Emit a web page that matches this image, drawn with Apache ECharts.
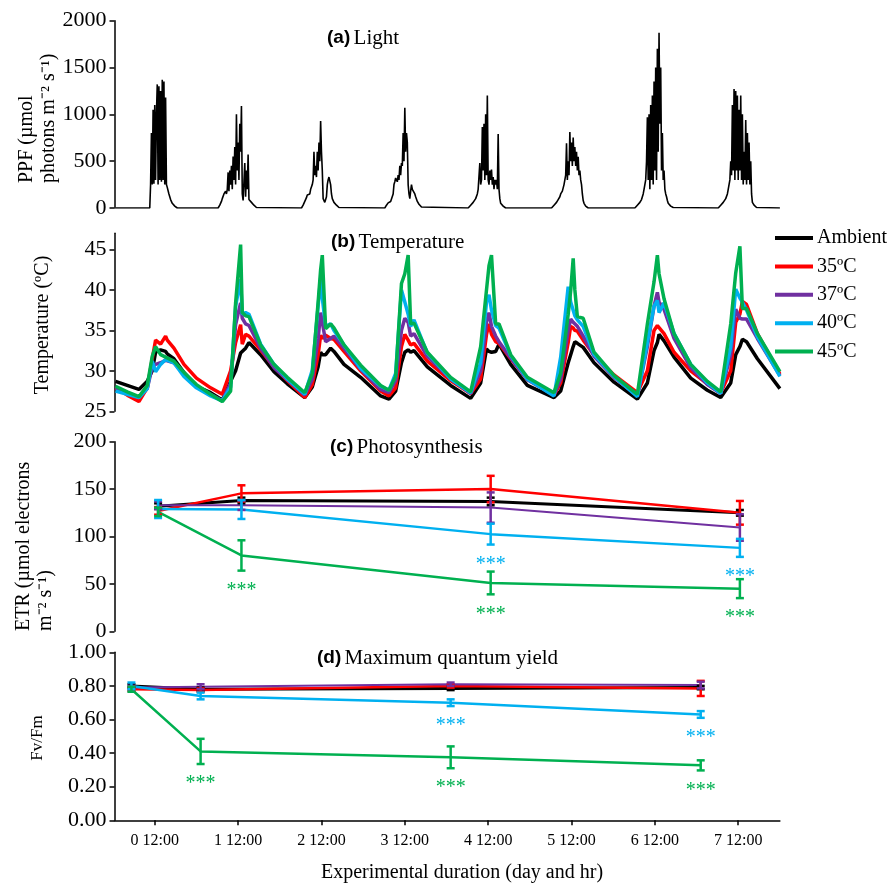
<!DOCTYPE html>
<html>
<head>
<meta charset="utf-8">
<script src="https://cdn.jsdelivr.net/npm/echarts@6/dist/echarts.min.js"></script>
<style>
html,body{margin:0;padding:0;background:#fff}
#chart{width:894px;height:886px}
</style>
</head>
<body>
<div id="chart"></div>
<script>
// ---- Shared x axis (days since start) ----
const dayMin = 0.017;
const dayMax = 8.0;
const dayTicks = [0.5, 1.5, 2.5, 3.5, 4.5, 5.5, 6.5, 7.5];
const dayTickLabels = ['0 12:00', '1 12:00', '2 12:00', '3 12:00', '4 12:00', '5 12:00', '6 12:00', '7 12:00'];

const treatNames = ['Ambient', '35ºC', '37ºC', '40ºC', '45ºC'];
const treatColors = ['#000000', '#FF0000', '#7030A0', '#00B0F0', '#00B050'];

// ---- (a) Light: PPF, sampled every 0.01 day through each daylight period ----
const ppfStep = 0.01;
const ppfDayStart = [0.44, 1.26, 2.26, 3.26, 4.26, 5.26, 6.26, 7.26];
const ppfDay0 = [0, 250, 800, 250, 1050, 260, 1100, 300, 1000, 1320, 250, 1300, 300, 1250, 280, 1370, 300, 1350, 250, 1180, 250, 220, 200, 150, 120, 90, 70, 50, 40, 30, 20, 12, 6, 0];
const ppfDay1 = [0, 10, 30, 50, 70, 100, 120, 150, 130, 180, 150, 200, 380, 180, 400, 250, 450, 200, 550, 300, 650, 250, 1000, 400, 700, 300, 900, 600, 1090, 150, 80, 100, 480, 120, 400, 200, 570, 90, 80, 70, 60, 50, 40, 30, 20, 10, 5, 0];
const ppfDay2 = [0, 10, 30, 50, 70, 90, 110, 140, 130, 160, 150, 200, 180, 250, 300, 600, 350, 450, 330, 600, 400, 700, 500, 930, 600, 400, 100, 80, 60, 80, 120, 250, 300, 330, 320, 250, 150, 100, 80, 60, 50, 40, 30, 20, 10, 5, 0];
const ppfDay3 = [0, 10, 30, 50, 55, 60, 60, 70, 80, 90, 150, 250, 280, 320, 300, 280, 350, 300, 450, 350, 480, 450, 800, 500, 1070, 600, 800, 700, 250, 150, 100, 180, 250, 200, 220, 180, 150, 120, 100, 70, 50, 40, 30, 20, 10, 5, 0];
const ppfDay4 = [0, 10, 20, 30, 40, 50, 60, 70, 80, 100, 120, 150, 200, 180, 480, 250, 300, 865, 400, 900, 300, 1000, 350, 1200, 300, 250, 400, 300, 410, 250, 330, 200, 300, 250, 300, 200, 790, 200, 100, 50, 40, 30, 20, 10, 5, 0];
const ppfDay5 = [0, 10, 20, 30, 40, 50, 60, 70, 90, 100, 120, 150, 150, 180, 200, 250, 300, 350, 690, 300, 500, 350, 812, 500, 700, 450, 752, 500, 650, 450, 600, 400, 546, 350, 400, 300, 250, 150, 80, 50, 30, 20, 10, 5, 0];
const ppfDay6 = [0, 10, 20, 30, 40, 50, 60, 70, 90, 120, 150, 200, 250, 300, 500, 970, 300, 1000, 200, 1100, 300, 1200, 250, 1350, 400, 1500, 300, 1700, 600, 1870, 900, 1500, 400, 800, 300, 400, 200, 150, 120, 80, 50, 40, 30, 20, 15, 10, 5, 0];
const ppfDay7 = [0, 10, 20, 30, 40, 50, 60, 70, 80, 100, 120, 150, 200, 250, 300, 500, 350, 1100, 400, 1270, 300, 1250, 400, 1200, 300, 1050, 400, 1200, 300, 1000, 250, 600, 300, 940, 250, 800, 300, 700, 250, 500, 150, 60, 40, 30, 20, 10, 5, 0];
const ppfDays = [ppfDay0, ppfDay1, ppfDay2, ppfDay3, ppfDay4, ppfDay5, ppfDay6, ppfDay7];

// ---- (b) Temperature ----
const tempTime = [0.03, 0.17, 0.31, 0.41, 0.47, 0.51, 0.57, 0.63, 0.65, 0.73, 0.85, 1.0, 1.17, 1.31,
  1.41, 1.47, 1.53, 1.55, 1.59, 1.63, 1.77, 1.93, 2.09, 2.30,
  2.39, 2.46, 2.49, 2.51, 2.55, 2.61, 2.65, 2.77, 2.97, 3.21, 3.31,
  3.39, 3.46, 3.50, 3.54, 3.57, 3.61, 3.77, 4.05, 4.29,
  4.41, 4.48, 4.51, 4.54, 4.59, 4.63, 4.77, 4.97, 5.29,
  5.37, 5.46, 5.49, 5.52, 5.54, 5.57, 5.64, 5.77, 6.01, 6.29,
  6.41, 6.49, 6.53, 6.55, 6.61, 6.73, 6.93, 7.13, 7.29,
  7.41, 7.47, 7.52, 7.55, 7.60, 7.73, 8.0];
const tempAmbient = [28.7, 28.2, 27.7, 28.7, 30.0, 32.3, 32.6, 32.4, 32.1, 31.5, 29.8, 28.1, 27.3, 26.4,
  28.7, 30.0, 32.2, 32.4, 32.8, 33.5, 32.0, 29.9, 28.4, 26.7,
  28.0, 30.5, 32.3, 32.0, 32.0, 32.8, 32.4, 30.8, 29.2, 26.9, 26.5,
  27.5, 31.0, 32.3, 32.6, 32.3, 32.5, 30.5, 28.2, 26.6,
  28.5, 32.7, 32.4, 32.3, 32.4, 33.3, 30.8, 28.2, 26.7,
  27.5, 31.0, 32.0, 33.0, 33.6, 33.4, 32.9, 31.0, 28.6, 26.5,
  28.5, 32.5, 33.5, 34.5, 33.7, 31.7, 29.1, 27.6, 26.7,
  28.5, 32.0, 33.0, 33.9, 33.6, 31.5, 27.8];
const temp35 = [27.9, 27.0, 26.2, 27.9, 31.5, 33.8, 33.3, 34.3, 33.8, 32.8, 30.8, 29.1, 27.9, 27.1,
  30.0, 33.5, 35.7, 33.3, 34.5, 34.3, 32.6, 30.5, 28.8, 26.7,
  28.3, 32.0, 34.4, 34.0, 34.4, 34.0, 33.9, 32.4, 30.0, 27.5, 26.9,
  27.9, 33.0, 34.5, 33.8, 33.2, 33.4, 31.2, 28.8, 27.2,
  29.0, 34.5, 35.8, 34.5, 33.6, 33.4, 31.5, 29.0, 27.0,
  28.5, 33.5, 35.5, 35.3, 35.0, 34.9, 33.8, 32.0, 29.5, 27.3,
  30.0, 35.0, 35.6, 35.5, 34.6, 32.3, 30.0, 28.4, 27.3,
  30.0, 36.0, 37.0, 38.6, 38.2, 34.6, 29.6];
const temp37 = [27.9, 27.3, 26.7, 27.8, 30.5, 30.8, 31.0, 31.3, 31.3, 31.0, 29.6, 28.0, 27.1, 26.3,
  28.5, 35.7, 38.4, 36.5, 35.8, 35.6, 32.8, 30.4, 28.9, 27.0,
  29.0, 34.0, 37.2, 36.0, 33.6, 34.0, 34.3, 32.8, 30.2, 27.7, 27.3,
  28.8, 35.0, 36.5, 36.0, 34.3, 34.6, 31.8, 29.0, 27.2,
  30.0, 36.0, 37.2, 35.5, 34.3, 33.6, 31.6, 28.9, 27.0,
  29.0, 35.0, 36.4, 36.0, 35.8, 35.5, 34.3, 31.8, 29.2, 26.9,
  33.0, 38.0, 39.7, 38.5, 37.6, 34.0, 30.4, 28.3, 27.2,
  32.0, 37.6, 36.5, 36.4, 36.4, 34.0, 29.4];
const temp40 = [27.5, 27.1, 26.7, 27.8, 31.2, 29.9, 30.8, 31.4, 31.5, 31.0, 29.3, 27.9, 26.9, 26.3,
  28.0, 38.0, 41.3, 37.0, 37.2, 37.0, 33.3, 30.8, 29.0, 27.1,
  30.1, 38.0, 41.5, 39.0, 35.5, 35.8, 35.0, 33.2, 30.3, 28.1, 27.6,
  29.7, 40.0, 38.5, 37.0, 35.5, 36.3, 32.2, 29.0, 27.3,
  31.0, 38.5, 39.4, 37.5, 35.6, 35.3, 31.9, 29.0, 26.9,
  31.7, 40.4, 38.5, 37.5, 36.8, 36.3, 35.5, 32.0, 29.3, 26.8,
  33.5, 38.0, 38.7, 37.2, 38.4, 34.6, 30.8, 28.5, 27.2,
  33.0, 40.1, 39.0, 38.5, 37.5, 34.2, 29.3];
const temp45 = [28.1, 27.4, 26.8, 28.2, 31.8, 33.0, 32.0, 31.7, 31.6, 31.2, 29.8, 28.3, 27.1, 26.2,
  27.5, 38.4, 45.6, 37.2, 36.8, 36.7, 33.2, 30.8, 29.2, 27.3,
  29.7, 38.5, 42.5, 44.3, 35.2, 35.8, 35.3, 33.2, 30.7, 28.2, 27.6,
  29.3, 40.8, 42.0, 44.3, 35.8, 35.9, 32.3, 29.2, 27.4,
  33.0, 40.0, 43.0, 44.3, 35.8, 35.8, 32.0, 29.2, 27.3,
  29.7, 37.0, 39.9, 43.9, 40.0, 36.7, 36.5, 32.3, 29.4, 27.1,
  35.8, 41.0, 44.3, 42.0, 38.9, 34.6, 30.8, 28.7, 27.4,
  35.8, 42.1, 45.4, 37.7, 37.7, 34.6, 29.9];
const tempSeries = [tempAmbient, temp35, temp37, temp40, temp45];

// ---- (c) Photosynthesis: ETR mean, error and significance ----
const etrTime = [0.54, 1.54, 4.53, 7.52];
const etrAmbient = [132, 138, 137, 125];
const etr35 = [127, 145.5, 150, 125];
const etr37 = [133, 133, 130.5, 109.5];
const etr40 = [129, 128.5, 102.5, 88];
const etr45 = [126, 80, 51, 45];
const etrErrAmbient = [3, 3, 4, 3];
const etrErr35 = [4, 8.5, 14, 12.5];
const etrErr37 = [4, 5, 16, 14];
const etrErr40 = [9.5, 10, 11, 9.5];
const etrErr45 = [4.5, 16, 12, 10];
const etrSig40 = [0, 0, 1, 1];
const etrSig45 = [0, 1, 1, 1];

// ---- (d) Maximum quantum yield: Fv/Fm ----
const fvTime = [0.22, 1.05, 4.05, 7.05];
const fvAmbient = [0.80, 0.78, 0.785, 0.79];
const fv35 = [0.78, 0.775, 0.80, 0.785];
const fv37 = [0.79, 0.795, 0.81, 0.805];
const fv40 = [0.80, 0.74, 0.70, 0.63];
const fv45 = [0.78, 0.41, 0.375, 0.327];
const fvErrAmbient = [0.01, 0.01, 0.01, 0.01];
const fvErr35 = [0.01, 0.01, 0.01, 0.045];
const fvErr37 = [0.01, 0.015, 0.01, 0.02];
const fvErr40 = [0.02, 0.02, 0.02, 0.02];
const fvErr45 = [0.015, 0.075, 0.065, 0.03];
const fvSig40 = [0, 0, 1, 1];
const fvSig45 = [0, 1, 1, 1];

const SERIF = '"Liberation Serif", "Times New Roman", serif';
const SANS = '"Liberation Sans", Arial, sans-serif';

// PPF points: zero before, between and after the daylight runs
const ppfPoints = [[0.03, 0]];
ppfDayStart.forEach((s, k) => {
  ppfDays[k].forEach((v, i) => ppfPoints.push([+(s + i * ppfStep).toFixed(3), v]));
});
ppfPoints.push([8.0, 0]);

const axisLineStyle = { color: '#000', width: 1.5 };

function hiddenX(idx) {
  return { type: 'value', gridIndex: idx, min: dayMin, max: dayMax, show: false };
}
function yAxis(idx, min, max, interval, extra) {
  return Object.assign({
    type: 'value', gridIndex: idx, min, max, interval,
    splitLine: { show: false },
    axisLine: { show: true, lineStyle: axisLineStyle },
    axisTick: { show: true, length: 5, lineStyle: axisLineStyle },
    axisLabel: { color: '#000', fontFamily: SERIF, fontSize: 22, margin: 8, formatter: (v) => String(v) }
  }, extra || {});
}

function errorBars(name, color, idx, times, means, errs, sig) {
  return {
    type: 'custom', name, xAxisIndex: idx, yAxisIndex: idx, silent: true, z: 5, clip: false,
    data: times.map((t, i) => [t, means[i] - errs[i], means[i] + errs[i], sig ? sig[i] : 0]),
    encode: { x: 0, y: [1, 2] },
    renderItem: (params, api) => {
      const x = api.value(0);
      const lo = api.coord([x, api.value(1)]);
      const hi = api.coord([x, api.value(2)]);
      const cw = 4;
      const st = { stroke: color, lineWidth: 2.5 };
      const children = [
        { type: 'line', shape: { x1: lo[0], y1: lo[1], x2: hi[0], y2: hi[1] }, style: st },
        { type: 'line', shape: { x1: hi[0] - cw, y1: hi[1], x2: hi[0] + cw, y2: hi[1] }, style: st },
        { type: 'line', shape: { x1: lo[0] - cw, y1: lo[1], x2: lo[0] + cw, y2: lo[1] }, style: st }
      ];
      if (api.value(3)) {
        children.push({ type: 'text', x: lo[0], y: lo[1] + 10,
          style: { text: '***', fill: color, font: '20px ' + SERIF, align: 'center', verticalAlign: 'top' } });
      }
      return { type: 'group', children };
    }
  };
}

const series = [];
series.push({
  type: 'line', name: 'PPF', xAxisIndex: 0, yAxisIndex: 0, data: ppfPoints,
  showSymbol: false, symbol: 'none', lineStyle: { color: '#000', width: 1.6 }, itemStyle: { color: '#000' }
});
tempSeries.forEach((arr, k) => {
  series.push({
    type: 'line', name: treatNames[k], xAxisIndex: 1, yAxisIndex: 1,
    data: tempTime.map((t, i) => [t, arr[i]]),
    symbol: 'none', lineStyle: { color: treatColors[k], width: 3.5 }, itemStyle: { color: treatColors[k] }
  });
});

const etrMeans = [etrAmbient, etr35, etr37, etr40, etr45];
const etrErrs = [etrErrAmbient, etrErr35, etrErr37, etrErr40, etrErr45];
const etrSigs = [null, null, null, etrSig40, etrSig45];
const fvMeans = [fvAmbient, fv35, fv37, fv40, fv45];
const fvErrs = [fvErrAmbient, fvErr35, fvErr37, fvErr40, fvErr45];
const fvSigs = [null, null, null, fvSig40, fvSig45];
const meanWidths = [3, 2.5, 2, 2.5, 2.5];

[[2, etrTime, etrMeans, etrErrs, etrSigs], [3, fvTime, fvMeans, fvErrs, fvSigs]].forEach(([idx, times, means, errs, sigs]) => {
  means.forEach((arr, k) => {
    series.push({
      type: 'line', name: treatNames[k], xAxisIndex: idx, yAxisIndex: idx,
      data: times.map((t, i) => [t, arr[i]]),
      symbol: 'none', lineStyle: { color: treatColors[k], width: meanWidths[k] }, itemStyle: { color: treatColors[k] }
    });
  });
  means.forEach((arr, k) => {
    series.push(errorBars(treatNames[k], treatColors[k], idx, times, arr, errs[k], sigs[k]));
  });
});

function panelTitle(tag, text, x, y) {
  return {
    type: 'text', x, y, silent: true,
    style: {
      text: '{b|' + tag + '} {n|' + text + '}', verticalAlign: 'middle', align: 'left',
      rich: {
        b: { fontFamily: SANS, fontWeight: 'bold', fontSize: 19, fill: '#000' },
        n: { fontFamily: SERIF, fontSize: 21, fill: '#000' }
      }
    }
  };
}
function verticalName(text, x, y, size, align, vAlign) {
  return {
    type: 'text', x, y, rotation: Math.PI / 2, silent: true,
    style: { text, fill: '#000', font: size + 'px ' + SERIF, align, verticalAlign: vAlign, lineHeight: size + 2 }
  };
}

const option = {
  animation: false,
  backgroundColor: '#fff',
  grid: [
    { left: 114.5, right: 114.1, top: 20.7, height: 187.3 },
    { left: 114.5, right: 114.1, top: 233.3, height: 178 },
    { left: 114.5, right: 114.1, top: 441.7, height: 189.6 },
    { left: 114.5, right: 114.1, top: 652.3, height: 168 }
  ],
  xAxis: [
    hiddenX(0), hiddenX(1), hiddenX(2),
    {
      type: 'value', gridIndex: 3, min: dayMin, max: dayMax,
      splitLine: { show: false },
      axisLine: { show: true, lineStyle: axisLineStyle },
      axisTick: { show: true, length: 5, customValues: dayTicks, lineStyle: axisLineStyle },
      axisLabel: {
        customValues: dayTicks, color: '#000', fontFamily: SERIF, fontSize: 16, margin: 12,
        formatter: (v) => dayTickLabels[dayTicks.indexOf(v)] || ''
      }
    }
  ],
  yAxis: [
    yAxis(0, 0, 2000, 500),
    yAxis(1, 25, 47, 5, {
      axisTick: { show: true, length: 5, customValues: [25, 30, 35, 40, 45], lineStyle: axisLineStyle },
      axisLabel: { customValues: [25, 30, 35, 40, 45], color: '#000', fontFamily: SERIF, fontSize: 22, margin: 8 }
    }),
    yAxis(2, 0, 200, 50),
    yAxis(3, 0, 1, 0.2, {
      axisLabel: { color: '#000', fontFamily: SERIF, fontSize: 22, margin: 8, formatter: (v) => v.toFixed(2) }
    })
  ],
  legend: {
    data: treatNames, orient: 'vertical', left: 775, top: 228, padding: 0,
    icon: 'rect', itemWidth: 38, itemHeight: 4, itemGap: 8.4,
    textStyle: { fontFamily: SERIF, fontSize: 20, color: '#000', padding: [0, 0, 0, -1] },
    selectedMode: false
  },
  graphic: [
    panelTitle('(a)', 'Light', 327, 38),
    panelTitle('(b)', 'Temperature', 331, 242),
    panelTitle('(c)', 'Photosynthesis', 330, 447),
    panelTitle('(d)', 'Maximum quantum yield', 317, 658),
    verticalName('PPF (µmol\nphotons m⁻² s⁻¹)', 16, 183, 20, 'left', 'top'),
    verticalName('Temperature (ºC)', 43, 325, 20, 'center', 'middle'),
    verticalName('ETR (µmol electrons\nm⁻² s⁻¹)', 13, 631, 20, 'left', 'top'),
    verticalName('Fv/Fm', 38, 738, 17, 'center', 'middle'),
    { type: 'text', x: 462, y: 873, silent: true,
      style: { text: 'Experimental duration (day and hr)', fill: '#000', font: '20px ' + SERIF, align: 'center', verticalAlign: 'middle' } }
  ],
  series
};

const chart = echarts.init(document.getElementById('chart'), null, { renderer: 'canvas' });
chart.setOption(option);
</script>
</body>
</html>
